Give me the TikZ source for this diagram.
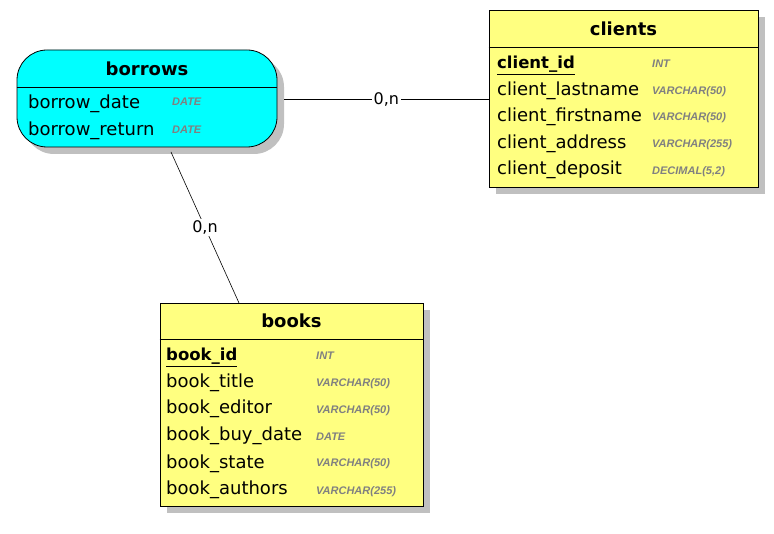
\documentclass[tikz,border=0pt]{standalone}
\usepackage{fontspec}
\setmainfont{DejaVu Sans}
\newfontfamily\typefont{Liberation Sans}
\usetikzlibrary{shadows,calc}
\definecolor{entyellow}{RGB}{255,255,128}
\definecolor{relcyan}{RGB}{0,255,255}
\definecolor{shadowgray}{RGB}{192,192,192}
\definecolor{typegray}{RGB}{128,128,128}
\tikzset{
  boxshadow/.style={drop shadow={shadow xshift=7pt, shadow yshift=-7pt, fill=shadowgray, opacity=1}},
  entity/.style={draw=black, line width=0.8pt, fill=entyellow, boxshadow, inner sep=0pt},
  relation/.style={draw=black, line width=0.8pt, fill=relcyan, boxshadow, inner sep=0pt, rounded corners=30pt},
  ttl/.style={inner sep=0pt, anchor=base, font=\fontsize{18}{18}\selectfont\bfseries},
  fld/.style={inner sep=0pt, anchor=base west, font=\fontsize{18}{18}\selectfont},
  pk/.style={fld, font=\fontsize{16.5}{16.5}\selectfont\bfseries},
  typ/.style={inner sep=0pt, anchor=base west, text=typegray, font=\typefont\fontsize{11}{11}\selectfont\bfseries\itshape},
  lbl/.style={fill=white, inner sep=2pt, font=\fontsize{16}{16}\selectfont},
  conn/.style={draw=black, line width=0.6pt}
}
\begin{document}
\begin{tikzpicture}[x=1pt,y=-1pt]
\useasboundingbox (0,0) rectangle (774,534);

\coordinate (b1) at (284,99);
\coordinate (b2) at (171,152);
\coordinate (k2) at (239,303);

% borrows
\node[relation, minimum width=260pt, minimum height=97pt] (borrows) at (147,98.5) {};
\draw[line width=0.6pt] ($(borrows.west)+(0,-11.5)$) -- ($(borrows.east)+(0,-11.5)$);
\node[ttl] (borrowsT) at (147,76) {borrows};
\node[fld] (bf1) at (28,109) {borrow\_date};
\node[typ] (bt1) at (172,106) {DATE};
\node[fld] (bf2) at (28,136) {borrow\_return};
\node[typ] (bt2) at (172,134) {DATE};

% clients
\node[entity, minimum width=269pt, minimum height=177pt] (clients) at (623.5,98.5) {};
\draw[line width=0.6pt] ($(clients.north west)+(0,38)$) -- ($(clients.north east)+(0,38)$);
\node[ttl] (clientsT) at (623.5,36) {clients};
\node[pk] (cf1) at (497,69) {\underline{client\_id}};
\node[typ] (ct1) at (652,68) {INT};
\node[fld] (cf2) at (497,96) {client\_lastname};
\node[typ] (ct2) at (652,95) {VARCHAR(50)};
\node[fld] (cf3) at (497,122) {client\_firstname};
\node[typ] (ct3) at (652,121) {VARCHAR(50)};
\node[fld] (cf4) at (497,149) {client\_address};
\node[typ] (ct4) at (652,148) {VARCHAR(255)};
\node[fld] (cf5) at (497,175) {client\_deposit};
\node[typ] (ct5) at (652,175) {DECIMAL(5,2)};

% books
\node[entity, minimum width=263pt, minimum height=203pt] (books) at (291.5,404.5) {};
\draw[line width=0.6pt] ($(books.north west)+(0,37)$) -- ($(books.north east)+(0,37)$);
\node[ttl] (booksT) at (291.5,328) {books};
\node[pk] (kf1) at (166,361) {\underline{book\_id}};
\node[typ] (kt1) at (316,360) {INT};
\node[fld] (kf2) at (166,388) {book\_title};
\node[typ] (kt2) at (316,387) {VARCHAR(50)};
\node[fld] (kf3) at (166,414) {book\_editor};
\node[typ] (kt3) at (316,414) {VARCHAR(50)};
\node[fld] (kf4) at (166,441) {book\_buy\_date};
\node[typ] (kt4) at (316,441) {DATE};
\node[fld] (kf5) at (166,468) {book\_state};
\node[typ] (kt5) at (316,467) {VARCHAR(50)};
\node[fld] (kf6) at (166,494) {book\_authors};
\node[typ] (kt6) at (316,494) {VARCHAR(255)};

% connectors
\draw[conn] (b1) -- (b1 -| clients.west);
\path (b1) -- node[lbl] (l1) {0,n} (b1 -| clients.west);
\draw[conn] (b2) -- (k2);
\path (b2) -- node[lbl] (l2) {0,n} (k2);
\end{tikzpicture}
\end{document}
